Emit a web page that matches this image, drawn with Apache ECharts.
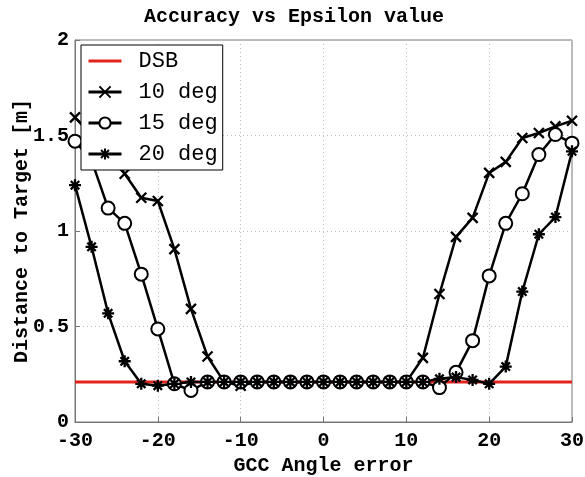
<!DOCTYPE html>
<html>
<head>
<meta charset="utf-8">
<script src="https://cdn.jsdelivr.net/npm/echarts@6/dist/echarts.min.js"></script>
<style>
  html, body { margin: 0; padding: 0; background: #fff; }
  #chart { width: 585px; height: 477px; }
</style>
</head>
<body>
<div id="chart"></div>
<script>
const angles = [-30, -28, -26, -24, -22, -20, -18, -16, -14, -12, -10, -8, -6, -4, -2, 0,
  2, 4, 6, 8, 10, 12, 14, 16, 18, 20, 22, 24, 26, 28, 30]
const dsb = [0.21, 0.21, 0.21, 0.21, 0.21, 0.21, 0.21, 0.21, 0.21, 0.21, 0.21, 0.21, 0.21, 0.21, 0.21, 0.21,
  0.21, 0.21, 0.21, 0.21, 0.21, 0.21, 0.21, 0.21, 0.21, 0.21, 0.21, 0.21, 0.21, 0.21, 0.21]
const deg10 = [1.595, 1.50, 1.42, 1.30, 1.174, 1.157, 0.905, 0.592, 0.343, 0.21, 0.19, 0.21, 0.21, 0.21, 0.21, 0.21,
  0.21, 0.21, 0.21, 0.21, 0.21, 0.336, 0.67, 0.969, 1.069, 1.304, 1.362, 1.487, 1.513, 1.548, 1.577]
const deg15 = [1.47, 1.37, 1.12, 1.04, 0.774, 0.487, 0.20, 0.165, 0.21, 0.21, 0.21, 0.21, 0.21, 0.21, 0.21, 0.21,
  0.21, 0.21, 0.21, 0.21, 0.21, 0.21, 0.18, 0.26, 0.426, 0.765, 1.04, 1.195, 1.40, 1.505, 1.46]
const deg20 = [1.24, 0.917, 0.569, 0.318, 0.20, 0.19, 0.20, 0.21, 0.21, 0.21, 0.21, 0.21, 0.21, 0.21, 0.21, 0.21,
  0.21, 0.21, 0.21, 0.21, 0.21, 0.21, 0.226, 0.235, 0.22, 0.20, 0.29, 0.683, 0.983, 1.073, 1.417]

const pairs = ys => angles.map((a, i) => [a, ys[i]])
const mono = "'Liberation Mono', 'DejaVu Sans Mono', monospace"
const crossSym = 'path://M0,0L10,10M10,0L0,10'
const starSym = 'path://M5,0L5,10M0,5L10,5M1.5,1.5L8.5,8.5M8.5,1.5L1.5,8.5'
const barIcon = 'path://M0,0L40,0L40,3.6L0,3.6Z'

const blackSeries = (name, ys, symbol, size) => ({
  name, type: 'line', data: pairs(ys), symbol, symbolSize: size,
  lineStyle: { color: '#000', width: 2.5 },
  itemStyle: { color: '#000', borderColor: '#000', borderWidth: 2.3 },
  animation: false
})

const chart = echarts.init(document.getElementById('chart'))
chart.setOption({
  backgroundColor: '#fff',
  title: {
    text: 'Accuracy vs Epsilon value', left: 139, top: 2,
    textStyle: { fontFamily: mono, fontWeight: 'bold', fontSize: 20, color: '#000' }
  },
  legend: {
    orient: 'vertical', left: 81, top: 45,
    data: [{ name: 'DSB', icon: barIcon, itemStyle: { color: '#e3231b' } }, '10 deg', '15 deg', '20 deg'],
    itemWidth: 33, itemHeight: 14, itemGap: 9,
    padding: [5, 5, 5, 6],
    borderColor: '#000', borderWidth: 1, backgroundColor: '#fff',
    lineStyle: { width: 3 },
    textStyle: { fontFamily: mono, fontSize: 22, color: '#000', padding: [0, 0, 0, 12] }
  },
  grid: {
    left: 75, right: 13, top: 40, bottom: 55, outerBoundsMode: 'none',
    show: true, borderColor: '#777', borderWidth: 1
  },
  xAxis: {
    type: 'value', min: -30, max: 30, interval: 10,
    name: 'GCC Angle error', nameLocation: 'middle', nameGap: 34, nameMoveOverlap: false,
    nameTextStyle: { fontFamily: mono, fontWeight: 'bold', fontSize: 20, color: '#000' },
    axisLine: { onZero: false, lineStyle: { color: '#777' } },
    axisTick: { inside: true, length: 5, lineStyle: { color: '#777' } },
    axisLabel: { fontFamily: mono, fontWeight: 'bold', fontSize: 20, color: '#000', margin: 9 },
    splitLine: { show: true, lineStyle: { color: '#bbb', type: [1, 3] } }
  },
  yAxis: {
    type: 'value', min: 0, max: 2, interval: 0.5,
    name: 'Distance to Target [m]', nameLocation: 'middle', nameGap: 43, nameMoveOverlap: false,
    nameTextStyle: { fontFamily: mono, fontWeight: 'bold', fontSize: 20, color: '#000' },
    axisLine: { show: true, onZero: false, lineStyle: { color: '#777' } },
    axisTick: { show: true, inside: true, length: 5, lineStyle: { color: '#777' } },
    axisLabel: { fontFamily: mono, fontWeight: 'bold', fontSize: 20, color: '#000', margin: 6 },
    splitLine: { show: true, lineStyle: { color: '#bbb', type: [1, 3] } }
  },
  series: [
    {
      name: 'DSB', type: 'line', data: pairs(dsb), showSymbol: false, symbol: 'none',
      lineStyle: { color: '#e3231b', width: 3 }, itemStyle: { color: '#e3231b' }, animation: false
    },
    blackSeries('10 deg', deg10, crossSym, 10),
    blackSeries('15 deg', deg15, 'emptyCircle', 13),
    blackSeries('20 deg', deg20, starSym, 12)
  ]
})
</script>
</body>
</html>
